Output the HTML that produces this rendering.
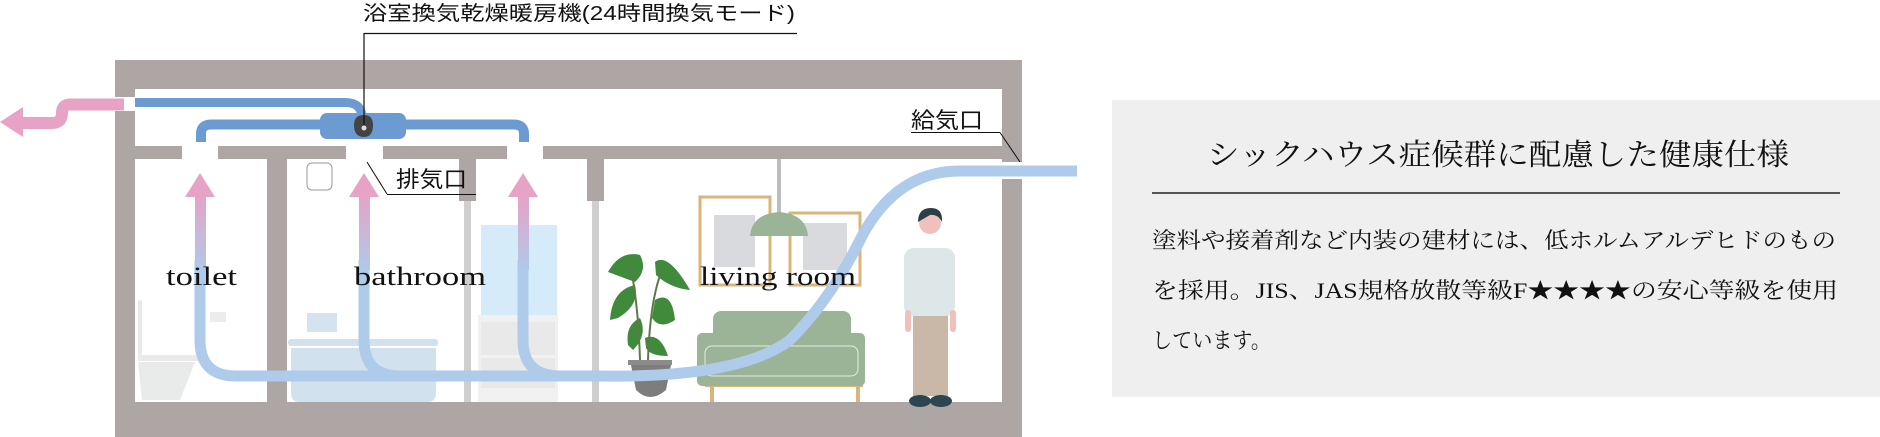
<!DOCTYPE html>
<html><head><meta charset="utf-8"><style>
html,body{margin:0;padding:0;background:#fff;width:1880px;height:437px;overflow:hidden}
svg{display:block}
.jp{font-family:"Liberation Sans","Noto Sans CJK JP",sans-serif}
.mj{font-family:"Liberation Serif","Noto Serif CJK JP",serif}
</style></head><body>
<svg width="1880" height="437" viewBox="0 0 1880 437" xmlns="http://www.w3.org/2000/svg">
<defs>
<linearGradient id="ag" x1="0" y1="0" x2="0" y2="1">
<stop offset="0" stop-color="#e6a3c6"/><stop offset="1" stop-color="#b0c9ea"/>
</linearGradient>
</defs>
<!-- walls -->
<rect x="115" y="60" width="907" height="377" fill="#aea5a5"/>
<rect x="135" y="89" width="867" height="57" fill="#fff"/>
<rect x="135" y="159" width="867" height="243" fill="#fff"/>
<!-- slab gaps -->
<rect x="182" y="146" width="36" height="13" fill="#fff"/>
<rect x="346" y="146" width="37" height="13" fill="#fff"/>
<rect x="507" y="146" width="36" height="13" fill="#fff"/>
<!-- left wall opening -->
<rect x="115" y="97" width="20" height="14" fill="#fff"/>
<!-- right wall opening -->
<rect x="1002" y="162" width="20" height="17" fill="#fff"/>
<!-- internal walls -->
<rect x="267" y="159" width="20" height="243" fill="#aea5a5"/>
<rect x="459" y="159" width="17" height="42" fill="#aea5a5"/>
<rect x="464" y="201" width="7" height="201" fill="#cfcfcf"/>
<rect x="587" y="159" width="17" height="42" fill="#aea5a5"/>
<rect x="592" y="201" width="7" height="201" fill="#cfcfcf"/>
<!-- toilet -->
<rect x="138" y="300" width="4" height="55" rx="2" fill="#e8e8e8"/>
<rect x="138" y="355" width="60" height="6" fill="#eaeaea"/>
<path d="M138 362 H195 L180 400 H142 Z" fill="#e9eaea"/>
<rect x="210" y="312" width="16" height="10" fill="#ececec"/>
<!-- bathroom -->
<rect x="307" y="163" width="25" height="27" rx="5" fill="#fff" stroke="#999" stroke-width="1"/>
<rect x="307" y="313" width="30" height="19" fill="#d3e3ef"/>
<rect x="288" y="339" width="150" height="7" rx="3" fill="#d1e2ee"/>
<path d="M291 348 H436 V393 Q436 402 427 402 H300 Q291 402 291 393 Z" fill="#d1e2ee"/>
<rect x="481" y="225" width="76" height="90" fill="#d6ebfa"/>
<rect x="478" y="315" width="80" height="87" fill="#f1f1f1"/>
<rect x="481" y="322" width="74" height="33" fill="#e9e9e9"/>
<rect x="481" y="358" width="74" height="30" fill="#e9e9e9"/>
<!-- living: frames -->
<rect x="700" y="197" width="70" height="88" fill="none" stroke="#d8b57a" stroke-width="3"/>
<rect x="714" y="215" width="41" height="52" fill="#d9dadd"/>
<rect x="790" y="213" width="70" height="72" fill="none" stroke="#d8b57a" stroke-width="3"/>
<rect x="803" y="223" width="44" height="47" fill="#d9dadd"/>
<rect x="777" y="159" width="4" height="56" fill="#bdbdbd"/>
<path d="M750 236 Q752 214 779 212 Q806 214 808 236 Z" fill="#9bb397"/>
<!-- sofa -->
<rect x="710" y="386" width="4" height="16" fill="#d8b57a"/><rect x="856" y="386" width="4" height="16" fill="#d8b57a"/>
<rect x="705" y="384" width="158" height="3" fill="#d8b57a"/>
<rect x="713" y="311" width="138" height="50" rx="8" fill="#9bb397"/>
<rect x="697" y="333" width="168" height="53" rx="5" fill="#9bb397"/>
<rect x="705" y="346" width="153" height="30" rx="7" fill="none" stroke="#e6eee4" stroke-width="1"/>
<!-- plant -->
<path d="M630 360 H672 L666 390 Q650 404 636 390 Z" fill="#7d7d7d"/>
<rect x="628" y="360" width="44" height="5" fill="#8c8c8c"/>
<g fill="#3f8a3b">
<path d="M608 272 Q620 250 640 255 Q648 270 635 282 Z"/>
<path d="M655 262 Q668 252 690 290 Q670 288 656 275 Z"/>
<path d="M610 320 Q612 290 635 285 Q640 305 618 318 Z"/>
<path d="M655 300 Q672 290 675 320 Q660 330 652 318 Z"/>
<path d="M628 345 Q625 325 640 318 Q648 335 633 350 Z"/>
<path d="M645 338 Q660 332 668 356 Q650 356 646 348 Z"/>
</g>
<path d="M640 360 Q638 300 630 265 M648 360 Q650 300 662 270" stroke="#5d7a46" stroke-width="2" fill="none"/>
<!-- person -->
<rect x="913" y="313" width="35" height="83" fill="#c9b8a8"/>
<rect x="904" y="248" width="51" height="68" rx="10" fill="#dde7e8"/>
<circle cx="930" cy="223" r="11" fill="#efc0bc"/>
<path d="M918 222 Q918 208 931 208 Q943 208 942 222 Q938 214 930 215 Z" fill="#2c3e46"/>
<rect x="905" y="310" width="6" height="22" rx="3" fill="#efc0bc"/><rect x="950" y="310" width="6" height="22" rx="3" fill="#efc0bc"/>
<ellipse cx="920" cy="401" rx="11" ry="6" fill="#2c4550"/><ellipse cx="941" cy="401" rx="11" ry="6" fill="#2c4550"/>
<!-- upper ducts -->
<path d="M135 102.5 H345 Q362 102.5 362 118" stroke="#6b9bd1" stroke-width="9" fill="none"/>
<path d="M201 142 V134 Q201 124.5 211 124.5 H514 Q524 124.5 524 134 V142" stroke="#6b9bd1" stroke-width="10" fill="none"/>
<rect x="320" y="113" width="86" height="26" rx="7" fill="#6b9bd1"/>
<path d="M354 125 Q354 115 364 115 Q373 115 373 125 Q373 137 364 137 Q354 137 354 125 Z" fill="#444"/>
<circle cx="364" cy="128" r="2.5" fill="#ddd"/>
<line x1="364" y1="33" x2="364" y2="125" stroke="#111" stroke-width="1.2"/>
<line x1="364" y1="33.5" x2="797" y2="33.5" stroke="#111" stroke-width="1.2"/>
<!-- pink exit arrow -->
<path d="M124 104.5 H70 Q62 104.5 62 113 Q62 123 52 123 H20" stroke="#e6a3c6" stroke-width="12" fill="none"/>
<path d="M0 122 L23 107 V137 Z" fill="#e6a3c6"/>
<!-- light duct -->
<g stroke="#aecbeb" stroke-width="11" fill="none">
<path d="M200 260 V340 Q200 376 236 376 H600 Q740 378 790 340 Q830 300 860 240 Q895 171 960 171 H1077"/>
<path d="M364 260 V340 Q364 376 400 376"/>
<path d="M523 260 V340 Q523 376 560 376"/>
</g>
<!-- pink up arrows -->
<g fill="url(#ag)">
<rect x="195" y="195" width="11" height="75"/><rect x="359" y="195" width="11" height="75"/><rect x="518" y="195" width="11" height="75"/>
</g>
<path d="M200 173 L215 197 H185 Z M364 173 L379 197 H349 Z M523 173 L538 197 H508 Z" fill="#e6a3c6"/>
<!-- labels -->
<text x="363" y="20" class="jp" font-size="20" fill="#111" textLength="432" lengthAdjust="spacingAndGlyphs">浴室換気乾燥暖房機(24時間換気モード)</text>
<line x1="367" y1="162" x2="387" y2="194" stroke="#111" stroke-width="1"/>
<line x1="387" y1="194.5" x2="476" y2="194.5" stroke="#111" stroke-width="1"/>
<text x="396" y="187" class="jp" font-size="22" fill="#111" textLength="71" lengthAdjust="spacingAndGlyphs">排気口</text>
<text x="911" y="128" class="jp" font-size="22" fill="#111" textLength="72" lengthAdjust="spacingAndGlyphs">給気口</text>
<line x1="911" y1="132.5" x2="1000" y2="132.5" stroke="#111" stroke-width="1"/>
<line x1="1000" y1="132.5" x2="1020" y2="162" stroke="#111" stroke-width="1"/>
<g class="mj" font-size="26" fill="#111">
<text x="166" y="285" textLength="71" lengthAdjust="spacingAndGlyphs">toilet</text>
<text x="354" y="285" textLength="132" lengthAdjust="spacingAndGlyphs">bathroom</text>
<text x="700" y="285" textLength="156" lengthAdjust="spacingAndGlyphs">living room</text>
</g>
<!-- right panel -->
<rect x="1112" y="100" width="768" height="297" fill="#eeefee"/>
<text x="1207" y="165" class="mj" font-size="30" fill="#111" textLength="582" lengthAdjust="spacingAndGlyphs">シックハウス症候群に配慮した健康仕様</text>
<line x1="1152" y1="193" x2="1840" y2="193" stroke="#222" stroke-width="1.5"/>
<g class="mj" font-size="22" fill="#111">
<text x="1152" y="248" textLength="684" lengthAdjust="spacingAndGlyphs">塗料や接着剤など内装の建材には、低ホルムアルデヒドのもの</text>
<text x="1152" y="298" textLength="686" lengthAdjust="spacingAndGlyphs">を採用。JIS、JAS規格放散等級F★★★★の安心等級を使用</text>
<text x="1152" y="348" textLength="119" lengthAdjust="spacingAndGlyphs">しています。</text>
</g>
</svg>
</body></html>
